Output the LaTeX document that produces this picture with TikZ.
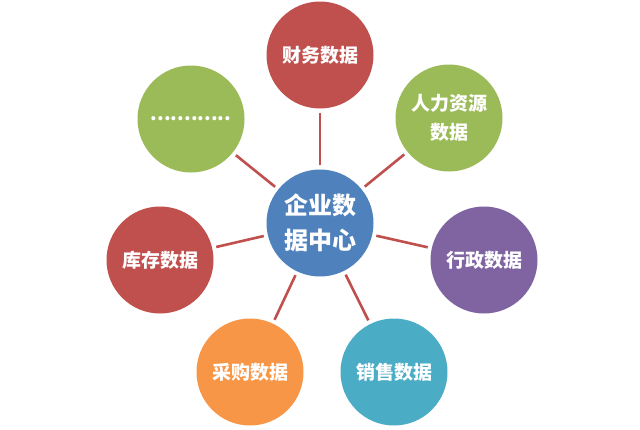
\documentclass[tikz,border=0pt]{standalone}
\usepackage{fontspec}
\newfontfamily\cjk{Noto Sans CJK SC}
\definecolor{cred}{HTML}{C0504D}
\definecolor{cgreen}{HTML}{9BBB59}
\definecolor{cpurple}{HTML}{8064A2}
\definecolor{cteal}{HTML}{4BACC6}
\definecolor{corange}{HTML}{F79646}
\definecolor{cblue}{HTML}{4F81BD}
\begin{document}
\begin{tikzpicture}[x=1pt,y=-1pt,
  ball/.style={circle,minimum size=107pt,inner sep=0pt,text=white,align=center,
    font=\cjk\bfseries\fontsize{19pt}{29pt}\selectfont},
  conn/.style={draw=cred,line width=2.6pt,shorten <=4pt,shorten >=4pt}]
\useasboundingbox (0,0) rectangle (640,429);
\node[ball,fill=cblue,font=\cjk\bfseries\fontsize{24pt}{35pt}\selectfont] (c) at (320,223) {企业数\\据中心};
\node[ball,fill=cred] (fin) at (320,55) {财务数据};
\node[ball,fill=cgreen] (hr) at (449,118) {人力资源\\数据};
\node[ball,fill=cpurple] (adm) at (484,260) {行政数据};
\node[ball,fill=cteal] (sal) at (394,372) {销售数据};
\node[ball,fill=corange] (pur) at (250,372) {采购数据};
\node[ball,fill=cred] (inv) at (160,260) {库存数据};
\node[ball,fill=cgreen] (oth) at (191,119) {............};
\foreach \n in {fin,hr,adm,sal,pur,inv,oth}
  \draw[conn] (c) -- (\n);
\end{tikzpicture}
\end{document}
